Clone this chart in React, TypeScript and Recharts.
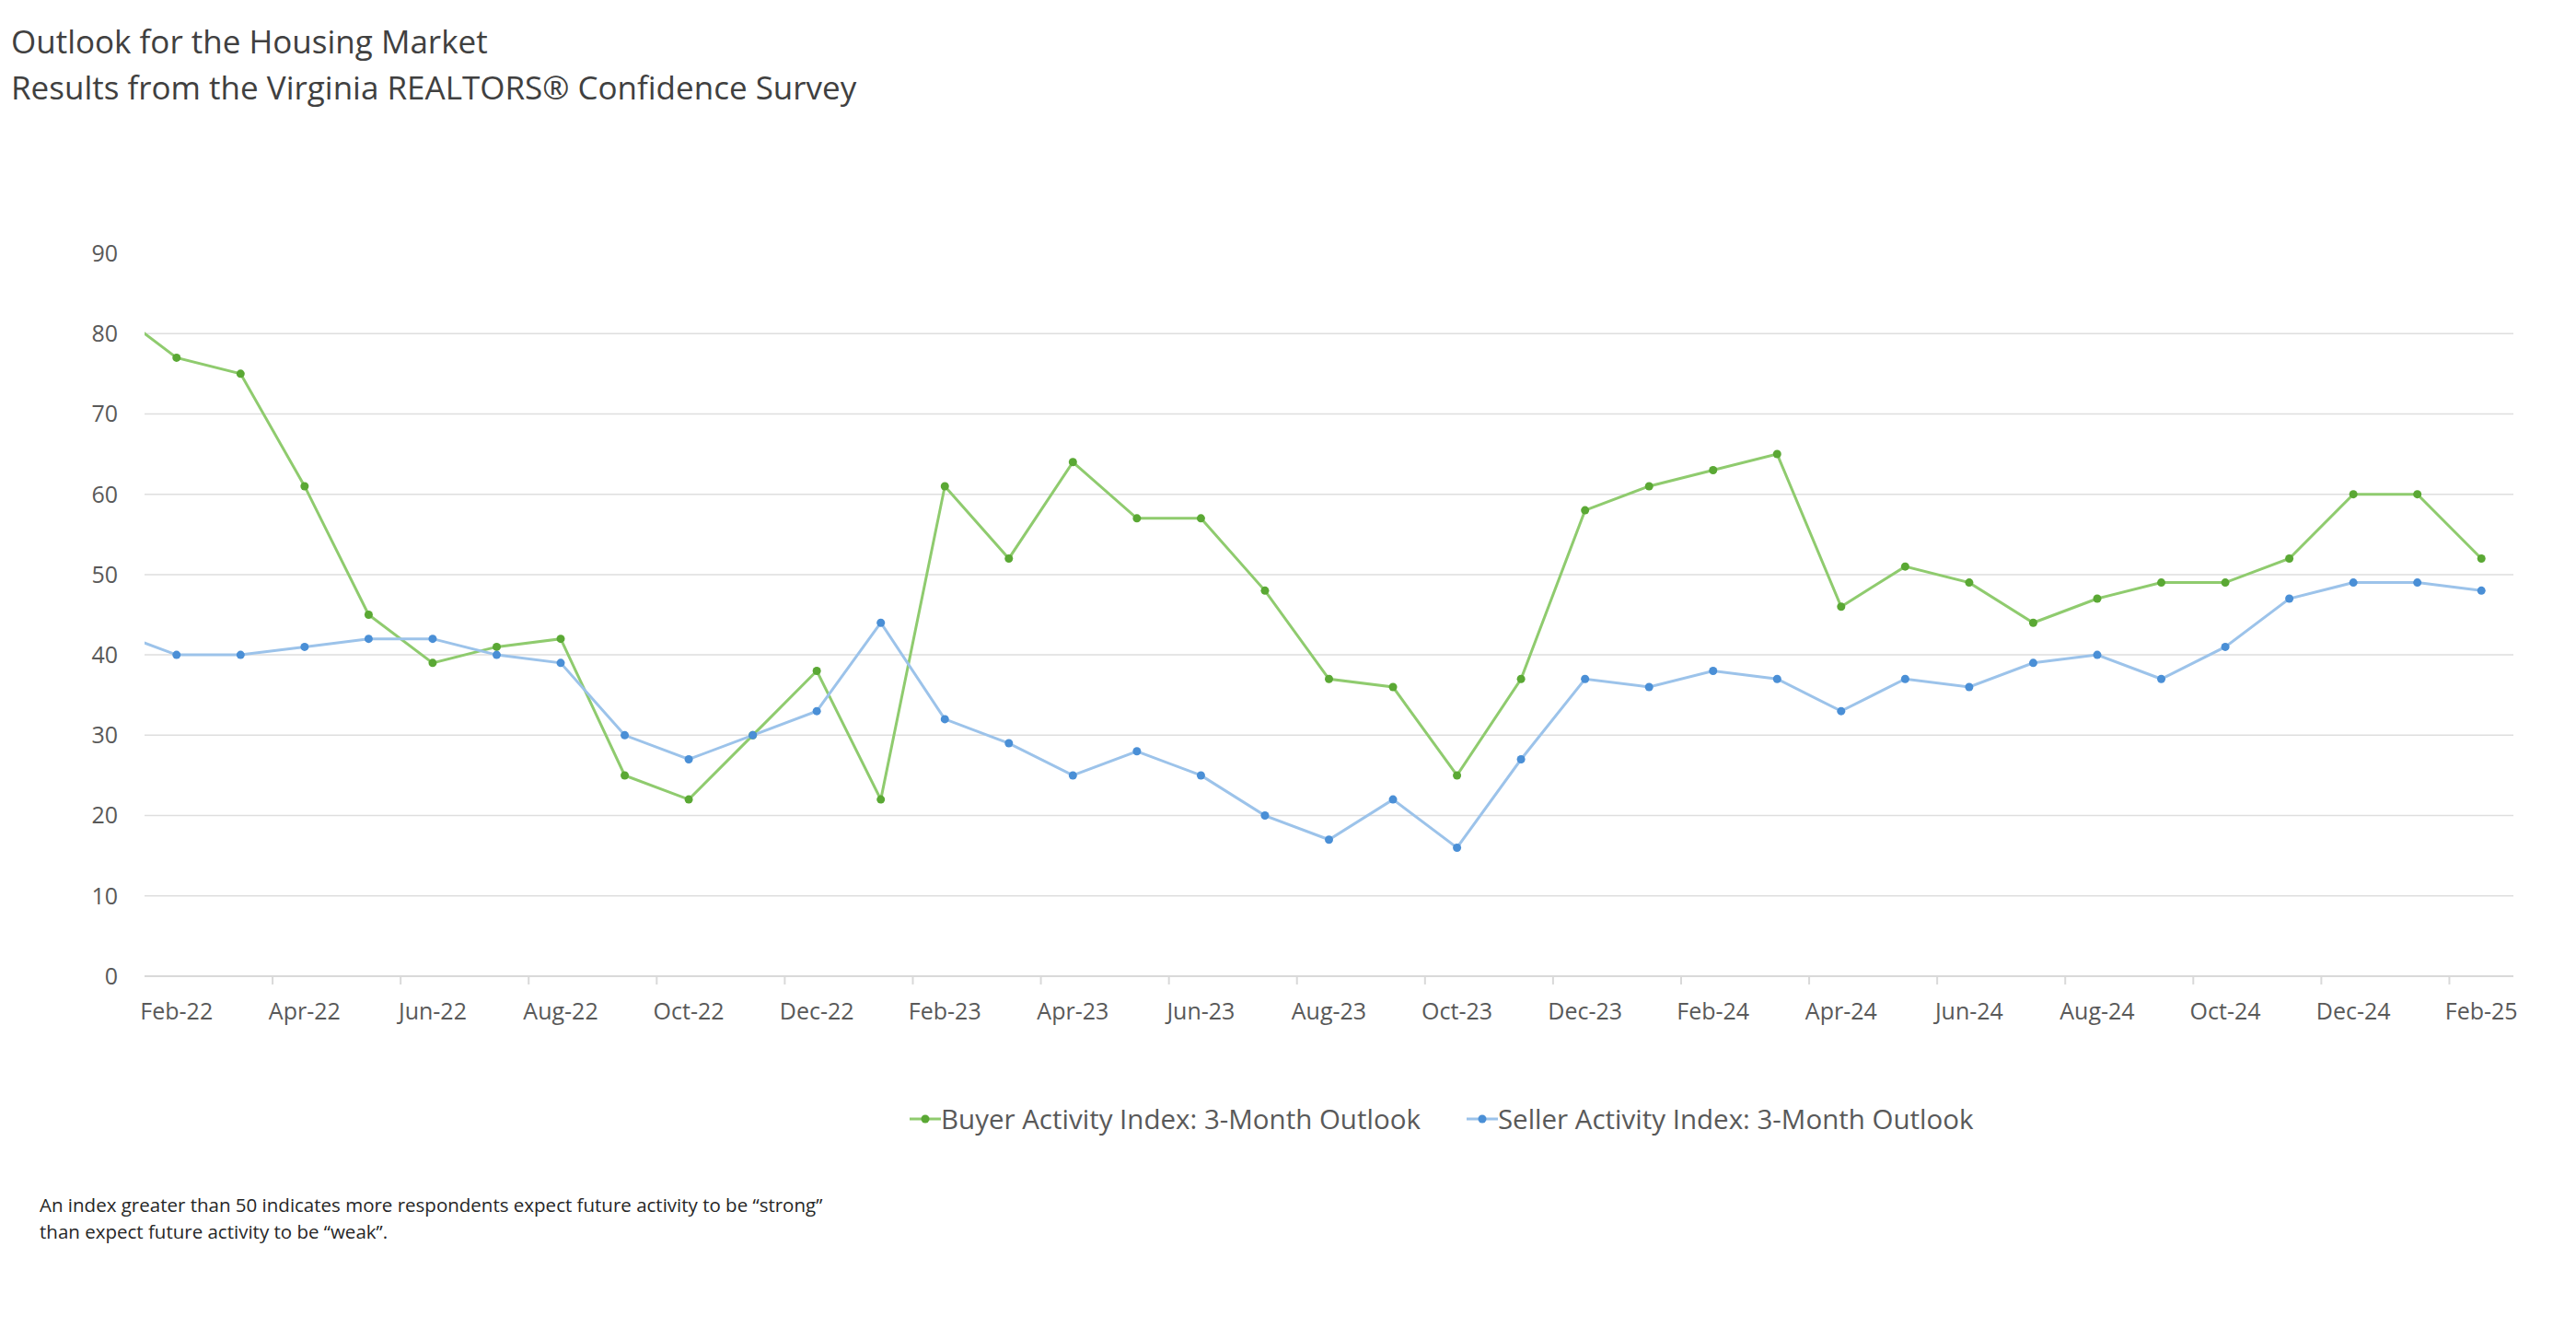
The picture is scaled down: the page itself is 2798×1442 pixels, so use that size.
import { CartesianGrid, Legend, Line, LineChart, XAxis, YAxis } from "recharts";

const months = [
  "Jan-22", "Feb-22", "Mar-22", "Apr-22", "May-22", "Jun-22", "Jul-22", "Aug-22", "Sep-22", "Oct-22", "Nov-22", "Dec-22",
  "Jan-23", "Feb-23", "Mar-23", "Apr-23", "May-23", "Jun-23", "Jul-23", "Aug-23", "Sep-23", "Oct-23", "Nov-23", "Dec-23",
  "Jan-24", "Feb-24", "Mar-24", "Apr-24", "May-24", "Jun-24", "Jul-24", "Aug-24", "Sep-24", "Oct-24", "Nov-24", "Dec-24",
  "Jan-25", "Feb-25",
];

const buyerActivity = [
  83, 77, 75, 61, 45, 39, 41, 42, 25, 22, 30, 38,
  22, 61, 52, 64, 57, 57, 48, 37, 36, 25, 37, 58,
  61, 63, 65, 46, 51, 49, 44, 47, 49, 49, 52, 60,
  60, 52,
];

const sellerActivity = [
  43, 40, 40, 41, 42, 42, 40, 39, 30, 27, 30, 33,
  44, 32, 29, 25, 28, 25, 20, 17, 22, 16, 27, 37,
  36, 38, 37, 33, 37, 36, 39, 40, 37, 41, 47, 49,
  49, 48,
];

const yTicks = [0, 10, 20, 30, 40, 50, 60, 70, 80, 90];
const gridValues = [10, 20, 30, 40, 50, 60, 70, 80];
// labelled months every 2nd (Feb-22 .. Feb-25), tick marks sit halfway before each label
const labelTicks = [1, 3, 5, 7, 9, 11, 13, 15, 17, 19, 21, 23, 25, 27, 29, 31, 33, 35, 37];
const markTicks = labelTicks.slice(1).map((t) => t - 0.5);
const xTicks = [...labelTicks, ...markTicks].sort((a, b) => a - b);

const series = [
  { key: "buyer", name: "Buyer Activity Index: 3-Month Outlook", line: "#8fcb6e", dot: "#5aa834" },
  { key: "seller", name: "Seller Activity Index: 3-Month Outlook", line: "#9cc3ea", dot: "#4a8fd6" },
];

const data = months.map((m, i) => ({ idx: i, month: m, buyer: buyerActivity[i], seller: sellerActivity[i] }));

const FONT = "'Open Sans', 'Noto Sans', sans-serif";

function MonthTick(props: any) {
  const { x, y, payload } = props;
  const v = payload.value;
  if (!Number.isInteger(v)) {
    return <line x1={x} x2={x} y1={y} y2={y + 9} stroke="#d9d9d9" strokeWidth={2} />;
  }
  return (
    <text x={x} y={y + 37} textAnchor="middle" dominantBaseline="central" fill="#595959" fontSize={25} fontFamily={FONT}>
      {months[v]}
    </text>
  );
}

function LegendContent() {
  return (
    <div style={{ display: "flex", gap: 50, paddingLeft: 988, fontFamily: FONT, fontSize: 29.5, color: "#595959" }}>
      {series.map((s) => (
        <div key={s.key} style={{ display: "flex", alignItems: "center" }}>
          <svg width={34} height={14}>
            <line x1={0} x2={34} y1={7} y2={7} stroke={s.line} strokeWidth={3} />
            <circle cx={17} cy={7} r={4.5} fill={s.dot} />
          </svg>
          <span>{s.name}</span>
        </div>
      ))}
    </div>
  );
}

export default function App() {
  return (
    <div style={{ position: "absolute", left: 0, top: 0, width: 2798, height: 1442, overflow: "hidden", background: "#fff", fontFamily: FONT }}>
      <div style={{ position: "absolute", left: 12, top: 22, fontSize: 35, lineHeight: "46px", color: "#404040", whiteSpace: "nowrap" }}>
        Outlook for the Housing Market
      </div>
      <div style={{ position: "absolute", left: 12, top: 72, fontSize: 35, lineHeight: "46px", color: "#404040", whiteSpace: "nowrap" }}>
        Results from the Virginia REALTORS® Confidence Survey
      </div>

      <LineChart
        width={2798}
        height={1442}
        data={data}
        margin={{ top: 275, right: 68, bottom: 322, left: 57 }}
        style={{ position: "absolute", left: 0, top: 0 }}
      >
        <CartesianGrid vertical={false} stroke="#dedede" strokeWidth={1.5} horizontalValues={gridValues} />
        <XAxis
          dataKey="idx"
          type="number"
          domain={[0.5, 37.5]}
          allowDataOverflow
          ticks={xTicks}
          interval={0}
          height={60}
          tickSize={0}
          tickMargin={0}
          tickLine={false}
          axisLine={{ stroke: "#d9d9d9", strokeWidth: 2 }}
          tick={<MonthTick />}
        />
        <YAxis
          type="number"
          domain={[0, 90]}
          ticks={yTicks}
          width={100}
          axisLine={false}
          tickLine={false}
          tickSize={0}
          tickMargin={29}
          tick={{ fill: "#595959", fontSize: 25, fontFamily: FONT }}
        />
        <Legend
          layout="horizontal"
          verticalAlign="middle"
          align="center"
          content={<LegendContent />}
          wrapperStyle={{ top: 1194, left: 0, width: 2798 }}
        />
        {series.map((s) => (
          <Line
            key={s.key}
            dataKey={s.key}
            name={s.name}
            type="linear"
            stroke={s.line}
            strokeWidth={3}
            dot={{ r: 4.5, fill: s.dot, stroke: "none" }}
            activeDot={false}
            isAnimationActive={false}
          />
        ))}
      </LineChart>

      <div style={{ position: "absolute", left: 43, top: 1294, fontSize: 20.5, lineHeight: "29px", color: "#262626", whiteSpace: "nowrap" }}>
        An index greater than 50 indicates more respondents expect future activity to be “strong”
        <br />
        than expect future activity to be “weak”.
      </div>
    </div>
  );
}
